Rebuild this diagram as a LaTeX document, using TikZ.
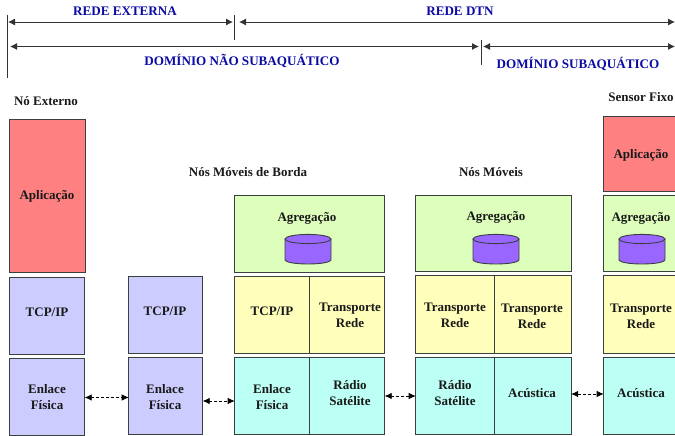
\documentclass[tikz,border=0pt]{standalone}
\usepackage{fontspec}
\setmainfont{Liberation Serif}
\usetikzlibrary{arrows.meta}
\definecolor{cred}{HTML}{FF8080}
\definecolor{clav}{HTML}{CCCCFF}
\definecolor{cgreen}{HTML}{DDFFBB}
\definecolor{cyel}{HTML}{FFFFBB}
\definecolor{ccyan}{HTML}{BBFFF5}
\definecolor{cpur}{HTML}{9966FF}
\definecolor{cblue}{HTML}{0A0AA5}
\definecolor{cedge}{HTML}{3A3F3F}
\tikzset{
  boxbase/.style={draw=cedge,line width=1pt,inner sep=0pt,outer sep=0pt},
  lbl/.style={font=\bfseries\fontsize{13}{16}\selectfont,align=center,inner sep=0pt,text=black!90},
  ttl/.style={font=\bfseries\fontsize{13.1}{14}\selectfont,inner sep=0pt,text=cblue},
  hdr/.style={font=\bfseries\fontsize{13}{14}\selectfont,inner sep=0pt,text=black!90},
  dim/.style={draw=black!80,line width=0.9pt,{Latex[length=7pt,width=7pt]}-{Latex[length=7pt,width=7pt]}},
  link/.style={draw=black,line width=0.8pt,dash pattern=on 3pt off 2pt,{Latex[length=7pt,width=6.5pt]}-{Latex[length=7pt,width=6.5pt]}},
  tick/.style={draw=black!80,line width=0.9pt},
  db/.style={draw=cedge,line width=0.9pt,fill=cpur},
}
% \bx{name}{x0}{y0}{x1}{y1}{fill}
\newcommand{\bx}[6]{\node[boxbase,fill=#6,minimum width=#4pt-#2pt,minimum height=#5pt-#3pt] (#1) at ({(#2+#4)/2-0.3},{(#3+#5)/2}) {};}
% \dbase{xleft}{xright}: store drum
\newcommand{\dbase}[2]{%
  \path[db] (#1,239) -- (#1,259.5) .. controls (#1,265.5) and (#2,265.5) .. (#2,259.5) -- (#2,239) -- cycle;
  \path[db] ({(#1+#2)/2},239) ellipse [x radius={(#2-#1)/2},y radius=4.6];
}
\begin{document}
\begin{tikzpicture}[x=1pt,y=-1pt]
\useasboundingbox (0,0) rectangle (675,436);
\clip (0,0) rectangle (675,436);
% ticks and dimension lines
\coordinate (t1a) at (7,15); \coordinate (t1b) at (7,78);
\coordinate (t2a) at (234.5,15); \coordinate (t2b) at (234.5,40);
\coordinate (t3a) at (481,40); \coordinate (t3b) at (481,65);
\draw[tick] (t1a) -- (t1b);
\draw[tick] (t2a) -- (t2b);
\draw[tick] (t3a) -- (t3b);
\coordinate (d1a) at (8,22); \coordinate (d1b) at (233,22);
\coordinate (d2a) at (239,22); \coordinate (d2b) at (675,22);
\coordinate (d3a) at (10,46.5); \coordinate (d3b) at (479,46.5);
\coordinate (d4a) at (483,46.5); \coordinate (d4b) at (675,46.5);
\draw[dim] (d1a) -- (d1b);
\draw[dim] (d2a) -- (d2b);
\draw[dim] (d3a) -- (d3b);
\draw[dim] (d4a) -- (d4b);
\node[ttl] (tA) at (125,11) {REDE EXTERNA};
\node[ttl] (tB) at (460,11) {REDE DTN};
\node[ttl] (tC) at (242,61) {DOMÍNIO NÃO SUBAQUÁTICO};
\node[ttl] (tD) at (578,63.5) {DOMÍNIO SUBAQUÁTICO};
\node[hdr] (hA) at (46,101.5) {Nó Externo};
\node[hdr] (hB) at (641,97.5) {Sensor Fixo};
\node[hdr] (hC) at (248,172.5) {Nós Móveis de Borda};
\node[hdr] (hD) at (491,172.5) {Nós Móveis};
% column 1
\bx{a1}{9.5}{119.5}{85.5}{272}{cred}
\bx{a2}{9.5}{277}{85}{354}{clav}
\bx{a3}{9.5}{358.5}{85}{435}{clav}
% column 2
\bx{b2}{129}{276}{203}{353}{clav}
\bx{b3}{129}{357.5}{203}{434.5}{clav}
% column 3
\bx{c1}{235}{195}{385}{272}{cgreen}
\bx{c2l}{235}{276.5}{310}{353}{cyel}
\bx{c2r}{310}{276.5}{385}{353}{cyel}
\bx{c3l}{235}{357.5}{310}{434.5}{ccyan}
\bx{c3r}{310}{357.5}{385}{434.5}{ccyan}
% column 4
\bx{d1}{416}{195}{571.5}{271.5}{cgreen}
\bx{d2l}{416}{275.5}{494.5}{353}{cyel}
\bx{d2r}{494.5}{275.5}{571.5}{353}{cyel}
\bx{d3l}{416}{357.5}{494.5}{434.5}{ccyan}
\bx{d3r}{494.5}{357.5}{571.5}{434.5}{ccyan}
% column 5
\bx{e0}{604}{116}{690}{191}{cred}
\bx{e1}{604}{195}{690}{271.5}{cgreen}
\bx{e2}{604}{275.5}{690}{353}{cyel}
\bx{e3}{604}{357.5}{690}{434.5}{ccyan}
% cylinders
\dbase{285}{331}
\dbase{473}{519}
\dbase{619}{665}
% labels
\node[lbl] (l1) at (47,196) {Aplicação};
\node[lbl] (l2) at (47,312.5) {TCP/IP};
\node[lbl] (l3) at (47,397.5) {Enlace\\Física};
\node[lbl] (l4) at (165,311.5) {TCP/IP};
\node[lbl] (l5) at (165,397.5) {Enlace\\Física};
\node[lbl] (l6) at (307,218.5) {Agregação};
\node[lbl] (l7) at (272,311.5) {TCP/IP};
\node[lbl] (l8) at (350,315) {Transporte\\Rede};
\node[lbl] (l9) at (272,397.5) {Enlace\\Física};
\node[lbl] (l10) at (350,393.5) {Rádio\\Satélite};
\node[lbl] (l11) at (496,217.5) {Agregação};
\node[lbl] (l12) at (455,315) {Transporte\\Rede};
\node[lbl] (l13) at (532,316) {Transporte\\Rede};
\node[lbl] (l14) at (455,393.5) {Rádio\\Satélite};
\node[lbl] (l15) at (532,393) {Acústica};
\node[lbl] (l16) at (641,155) {Aplicação};
\node[lbl] (l17) at (641,218.5) {Agregação};
\node[lbl] (l18) at (641,316) {Transporte\\Rede};
\node[lbl] (l19) at (641,393) {Acústica};
% links
\draw[link] (a3.east |- 0,397.5) -- (b3.west |- 0,397.5);
\draw[link] (b3.east |- 0,401) -- (c3l.west |- 0,401);
\draw[link] (c3r.east |- 0,396) -- (d3l.west |- 0,396);
\draw[link] (d3r.east |- 0,394) -- (e3.west |- 0,394);
\end{tikzpicture}
\end{document}
